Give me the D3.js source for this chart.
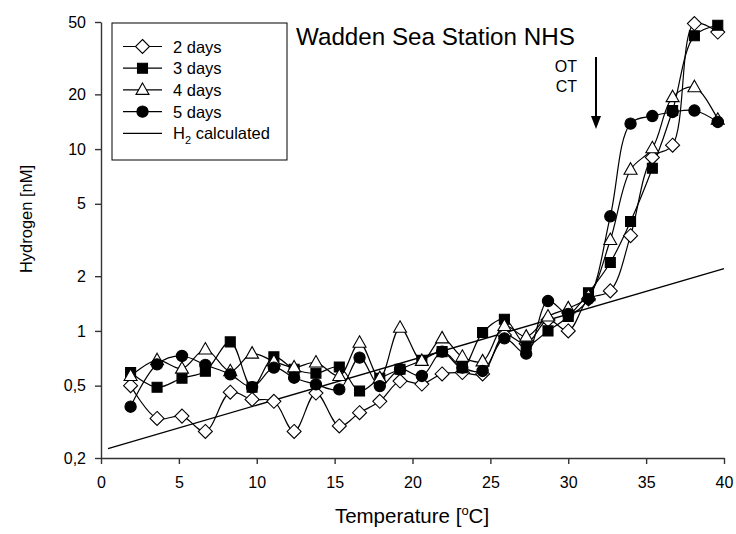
<!DOCTYPE html>
<html>
<head>
<meta charset="utf-8">
<script src="https://cdn.jsdelivr.net/npm/d3@7"></script>
<style>
  body { margin: 0; background: #fff; }
  svg text { font-family: "Liberation Sans", Arial, sans-serif; fill: #000; }
</style>
</head>
<body>
<div class="chart"></div>
<script>
// temperature steps of the incubation (°C)
var temps = [1.9, 3.6, 5.2, 6.7, 8.3, 9.7, 11.1, 12.4, 13.8, 15.3, 16.6, 17.9, 19.2, 20.6,
             21.9, 23.2, 24.5, 25.9, 27.3, 28.7, 30.0, 31.3, 32.7, 34.0, 35.4, 36.7, 38.1, 39.6];

var days2 = [0.50, 0.33, 0.34, 0.28, 0.46, 0.42, 0.41, 0.28, 0.455, 0.30, 0.355, 0.41, 0.53, 0.51,
             0.58, 0.59, 0.58, 0.95, 0.85, 1.15, 1.0, 1.5, 1.66, 3.34, 9.0, 10.5, 49, 44];
var days3 = [0.59, 0.49, 0.55, 0.60, 0.87, 0.49, 0.72, 0.615, 0.585, 0.633, 0.467, 0.548, 0.615, 0.689,
             0.769, 0.628, 0.98, 1.16, 0.84, 1.0, 1.2, 1.62, 2.38, 4.0, 7.85, 16.3, 42, 48];
var days4 = [0.565, 0.69, 0.62, 0.79, 0.60, 0.75, 0.68, 0.63, 0.67, 0.565, 0.86, 0.55, 1.04, 0.684,
             0.91, 0.72, 0.68, 1.065, 0.93, 1.2, 1.33, 1.55, 3.16, 7.7, 10.1, 19.3, 21.9, 14.5];
var days5 = [0.383, 0.655, 0.728, 0.65, 0.577, 0.491, 0.628, 0.553, 0.508, 0.477, 0.713, 0.497, 0.615, 0.565,
             0.769, 0.628, 0.602, 0.91, 0.75, 1.46, 1.24, 1.5, 4.27, 13.8, 15.2, 16.0, 16.3, 14.1];

// calculated H2 (straight line on the log axis)
var calcT = [0.45, 40];
var calcH2 = [0.225, 2.2];

var xTicks = [0, 5, 10, 15, 20, 25, 30, 35, 40];
var yTicks = [0.2, 0.5, 1, 2, 5, 10, 20, 50];

const margin = {top: 22, right: 12, bottom: 76, left: 101};
const width = 736, height = 534;

var svg = d3.select(".chart").append("svg")
    .attr("width", width)
    .attr("height", height);

const xScale = d3.scaleLinear().domain([0, 40]).range([margin.left, 724]);
const yScale = d3.scaleLog().domain([0.2, 50]).range([height - margin.bottom, margin.top]);

// axes
var xAxis = svg.append("g")
    .attr("transform", "translate(0," + (height - margin.bottom) + ")")
    .call(d3.axisBottom(xScale).tickValues(xTicks).tickSize(6).tickPadding(13).tickSizeOuter(0));
var yAxis = svg.append("g")
    .attr("transform", "translate(" + margin.left + ",0)")
    .call(d3.axisLeft(yScale).tickValues(yTicks).tickSize(6).tickPadding(9).tickSizeOuter(0)
        .tickFormat(d => String(d).replace(".", ",")));

[xAxis, yAxis].forEach(g => {
    g.selectAll("path, line").attr("stroke", "#333").attr("stroke-width", 1.4);
    g.selectAll("text").attr("font-size", 16).attr("fill", "#000")
        .style("font-family", "'Liberation Sans', Arial, sans-serif");
});

// axis titles
svg.append("text")
    .attr("x", 412).attr("y", 523)
    .attr("text-anchor", "middle")
    .attr("font-size", 20.5)
    .html('Temperature [<tspan dy="-8" font-size="13">o</tspan><tspan dy="8">C]</tspan>');

svg.append("text")
    .attr("transform", "translate(32,219) rotate(-90)")
    .attr("text-anchor", "middle")
    .attr("font-size", 16.5)
    .text("Hydrogen [nM]");

// title and annotation
svg.append("text")
    .attr("x", 296).attr("y", 45)
    .attr("font-size", 24.2)
    .text("Wadden Sea Station NHS");

svg.append("text").attr("x", 577).attr("y", 72).attr("text-anchor", "end")
    .attr("font-size", 16).text("OT");
svg.append("text").attr("x", 577).attr("y", 92).attr("text-anchor", "end")
    .attr("font-size", 16).text("CT");

svg.append("line")
    .attr("x1", 596).attr("x2", 596).attr("y1", 57).attr("y2", 118)
    .attr("stroke", "#000").attr("stroke-width", 2);
svg.append("path")
    .attr("d", "M591,116L601,116L596,129Z")
    .attr("fill", "#000");

// marker shapes
function shape(kind) {
    if (kind == "diamond") return "M0,-7L7,0L0,7L-7,0Z";
    if (kind == "square") return "M-5,-5L5,-5L5,5L-5,5Z";
    if (kind == "triangle") return "M0,-7L6.5,4.5L-6.5,4.5Z";
    return d3.symbol().type(d3.symbolCircle).size(100)();
}

var series = [
    {name: "2 days", values: days2, kind: "diamond", fill: "#fff"},
    {name: "3 days", values: days3, kind: "square", fill: "#000"},
    {name: "4 days", values: days4, kind: "triangle", fill: "#fff"},
    {name: "5 days", values: days5, kind: "circle", fill: "#000"}
];

var line = d3.line()
    .x(d => xScale(d[0]))
    .y(d => yScale(d[1]))
    .curve(d3.curveCatmullRom.alpha(0.5));

// calculated line
svg.append("path")
    .datum(d3.zip(calcT, calcH2))
    .attr("d", d3.line().x(d => xScale(d[0])).y(d => yScale(d[1])))
    .attr("fill", "none")
    .attr("stroke", "#000")
    .attr("stroke-width", 1.3);

series.forEach(s => {
    svg.append("path")
        .datum(d3.zip(temps, s.values))
        .attr("d", line)
        .attr("fill", "none")
        .attr("stroke", "#000")
        .attr("stroke-width", 1.2);
});

series.forEach(s => {
    svg.selectAll(".m-" + s.kind)
        .data(d3.zip(temps, s.values))
        .enter().append("path")
        .attr("class", "m-" + s.kind)
        .attr("d", shape(s.kind))
        .attr("transform", d => "translate(" + xScale(d[0]) + "," + yScale(d[1]) + ")")
        .attr("fill", s.fill)
        .attr("stroke", "#000")
        .attr("stroke-width", 1.1);
});

// legend
var legend = svg.append("g");
legend.append("rect")
    .attr("x", 112).attr("y", 23).attr("width", 175).attr("height", 137)
    .attr("fill", "#fff").attr("stroke", "#000").attr("stroke-width", 1);

var rows = series.concat([{name: "H2", kind: null}]);
rows.forEach((s, i) => {
    var y = 46.5 + i * 21.7;
    legend.append("line")
        .attr("x1", 123).attr("x2", 162).attr("y1", y).attr("y2", y)
        .attr("stroke", "#000").attr("stroke-width", 1.2);
    if (s.kind) {
        legend.append("path")
            .attr("d", shape(s.kind))
            .attr("transform", "translate(142.5," + y + ")")
            .attr("fill", s.fill).attr("stroke", "#000").attr("stroke-width", 1.1);
        legend.append("text").attr("x", 173).attr("y", y + 6)
            .attr("font-size", 16.5).text(s.name);
    } else {
        legend.append("text").attr("x", 173).attr("y", y + 6)
            .attr("font-size", 16.5)
            .html('H<tspan dy="5" font-size="11">2</tspan><tspan dy="-5"> calculated</tspan>');
    }
});
</script>
</body>
</html>
